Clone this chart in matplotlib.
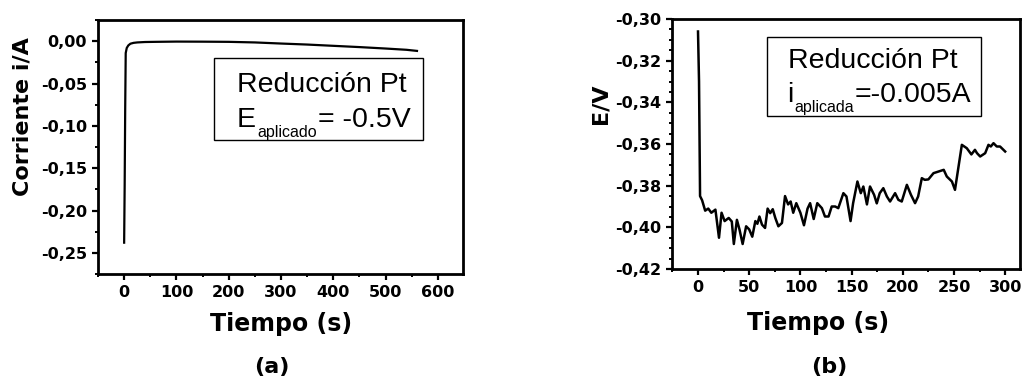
import matplotlib
matplotlib.use("Agg")
import matplotlib.pyplot as plt
from matplotlib.patches import Rectangle
from matplotlib.ticker import MultipleLocator

# ---- data panel (a): chronoamperometry ----
t_a = [0, 1, 2, 3, 5, 8, 12, 18, 25, 40, 60, 100, 150, 200, 250, 300,
       350, 400, 450, 500, 540, 560]
i_a = [-0.238, -0.17, -0.08, -0.014, -0.008, -0.005, -0.003, -0.002,
       -0.0015, -0.001, -0.0008, -0.0005, -0.0006, -0.0008, -0.0015,
       -0.0028, -0.004, -0.0055, -0.007, -0.0087, -0.0102, -0.0115]

# ---- data panel (b): chronopotentiometry ----
t_b = [0, 1, 2, 4, 7, 10, 13, 17, 20.5, 23, 26, 30, 33, 35, 38, 40.5,
       43.6, 47, 50, 53, 56, 58, 60, 62.5, 65.5, 68, 70.5, 73, 75.5,
       78.5, 82, 85, 88, 90.5, 93, 96, 100, 103.5, 107, 109.5, 113,
       116.5, 121, 124, 127.5, 130.6, 134, 137, 142, 145, 149, 151.5,
       155.7, 159, 161.5, 165, 168, 172, 174.6, 177.5, 181, 184.5,
       187.6, 192.5, 195.7, 199, 204, 208, 212, 215, 218.6, 221.5, 225,
       230, 235, 240, 243, 248, 251, 257.7, 262.5, 267, 270.5, 272.5,
       275.6, 280.5, 283.7, 286, 288.6, 291.8, 295, 300]
e_b = [-0.306, -0.33, -0.385, -0.387, -0.392, -0.391, -0.393, -0.3915,
       -0.405, -0.393, -0.397, -0.3955, -0.3972, -0.408, -0.3964, -0.401,
       -0.408, -0.3995, -0.401, -0.4045, -0.397, -0.3983, -0.3948,
       -0.3987, -0.4003, -0.391, -0.3932, -0.3913, -0.3955, -0.3995,
       -0.3979, -0.385, -0.389, -0.3876, -0.393, -0.3884, -0.393, -0.399,
       -0.391, -0.3884, -0.396, -0.3884, -0.3908, -0.3948, -0.3948,
       -0.39, -0.39, -0.3908, -0.3836, -0.3852, -0.397, -0.3884, -0.378,
       -0.3836, -0.3804, -0.389, -0.3804, -0.3844, -0.3885, -0.3836,
       -0.3812, -0.3852, -0.3876, -0.3836, -0.3868, -0.3876, -0.3796,
       -0.3844, -0.3884, -0.3852, -0.3764, -0.3772, -0.377, -0.374,
       -0.3732, -0.3724, -0.3756, -0.378, -0.382, -0.3604, -0.362,
       -0.365, -0.3628, -0.3644, -0.366, -0.3644, -0.3604, -0.3612,
       -0.3596, -0.3612, -0.3612, -0.3636]

xt_a = [0, 100, 200, 300, 400, 500, 600]
yt_a = [0.0, -0.05, -0.10, -0.15, -0.20, -0.25]
ylab_a = ['0,00', '-0,05', '-0,10', '-0,15', '-0,20', '-0,25']
xt_b = [0, 50, 100, 150, 200, 250, 300]
yt_b = [-0.30, -0.32, -0.34, -0.36, -0.38, -0.40, -0.42]
ylab_b = ['-0,30', '-0,32', '-0,34', '-0,36', '-0,38', '-0,40', '-0,42']

W, H = 1022, 382
fig = plt.figure(figsize=(W / 100, H / 100), dpi=100)


def fx(px):
    return px / W


def fy(py):
    return 1 - py / H


def make_axes(l, r, t, b):
    return fig.add_axes([fx(l), fy(b), fx(r) - fx(l), fy(t) - fy(b)])


ax_a = make_axes(98, 463, 20, 274)
ax_b = make_axes(672, 1020, 19, 269)

tickfont = dict(family='DejaVu Sans', weight='bold', size=11.5)

for ax in (ax_a, ax_b):
    for s in ax.spines.values():
        s.set_linewidth(2.0)
    ax.tick_params(which='major', direction='out', length=4, width=1.6,
                   top=False, right=False, pad=4)
    ax.tick_params(which='minor', direction='out', length=2.5, width=1.4,
                   top=False, right=False)

ax_a.plot(t_a, i_a, color='black', lw=1.6)
ax_a.set_xlim(-50, 648)
ax_a.set_ylim(-0.275, 0.025)
ax_a.set_xticks(xt_a)
ax_a.set_xticklabels([str(v) for v in xt_a], fontdict=tickfont)
ax_a.set_yticks(yt_a)
ax_a.set_yticklabels(ylab_a, fontdict=tickfont)
ax_a.xaxis.set_minor_locator(MultipleLocator(50))
ax_a.yaxis.set_minor_locator(MultipleLocator(0.025))

ax_b.plot(t_b, e_b, color='black', lw=1.8)
ax_b.set_xlim(-25.4, 314.5)
ax_b.set_ylim(-0.42, -0.30)
ax_b.set_xticks(xt_b)
ax_b.set_xticklabels([str(v) for v in xt_b], fontdict=tickfont)
ax_b.set_yticks(yt_b)
ax_b.set_yticklabels(ylab_b, fontdict=tickfont)
ax_b.xaxis.set_minor_locator(MultipleLocator(25))
ax_b.yaxis.set_minor_locator(MultipleLocator(0.005))

labfont = dict(family='DejaVu Sans', weight='bold', size=16)
xlabfont = dict(family='DejaVu Sans', weight='bold', size=17)
fig.text(fx(23), fy(117), 'Corriente i/A', rotation=90, ha='center',
         va='center', **labfont)
fig.text(fx(600), fy(104), 'E/V', rotation=90, ha='center', va='center',
         **labfont)
fig.text(fx(281), fy(324), 'Tiempo (s)', ha='center', va='center', **xlabfont)
fig.text(fx(818), fy(323), 'Tiempo (s)', ha='center', va='center', **xlabfont)
fig.text(fx(272), fy(367), '(a)', ha='center', va='center', **labfont)
fig.text(fx(829), fy(367), '(b)', ha='center', va='center', **labfont)

# annotation boxes
boxfont = dict(family='Liberation Sans', size=20.5)
subfont = dict(family='Liberation Sans', size=11.5)
renderer = fig.canvas.get_renderer()


def sub_line(x0, base, main, sub, rest, sub_drop=10, gap=1):
    t1 = fig.text(fx(x0), fy(base), main, ha='left', va='baseline', **boxfont)
    x1 = t1.get_window_extent(renderer).x1 + gap
    t2 = fig.text(x1 / W, fy(base + sub_drop), sub, ha='left',
                  va='baseline', **subfont)
    x2 = t2.get_window_extent(renderer).x1 + gap
    fig.text(x2 / W, fy(base), rest, ha='left', va='baseline', **boxfont)


fig.add_artist(Rectangle((fx(214), fy(140)), fx(423) - fx(214),
                         fy(58) - fy(140), transform=fig.transFigure,
                         fill=False, lw=1.0, ec='black'))
fig.text(fx(237), fy(92), 'Reducción Pt', ha='left', va='baseline', **boxfont)
sub_line(237, 127, 'E', 'aplicado', '= -0.5V')

fig.add_artist(Rectangle((fx(767), fy(116)), fx(981) - fx(767),
                         fy(37) - fy(116), transform=fig.transFigure,
                         fill=False, lw=1.0, ec='black'))
fig.text(fx(788), fy(68), 'Reducción Pt', ha='left', va='baseline', **boxfont)
sub_line(787, 102, 'i', 'aplicada', '=-0.005A')

fig.savefig('out.png', dpi=100)
